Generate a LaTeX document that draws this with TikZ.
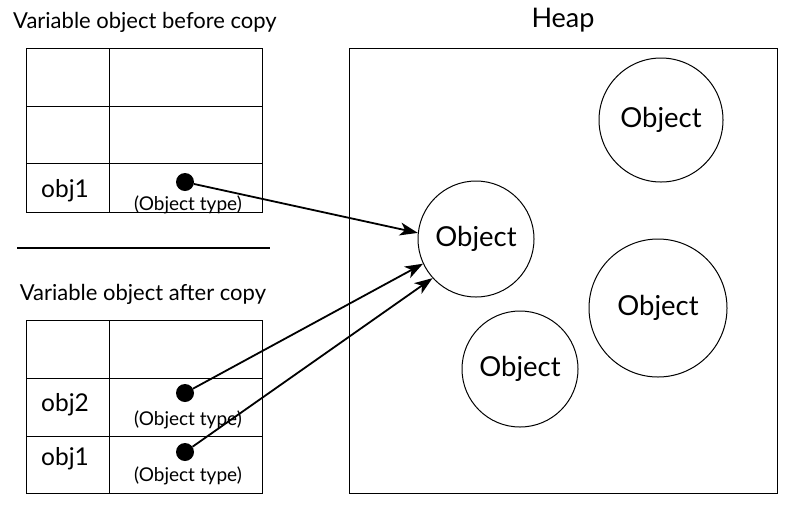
\documentclass[tikz,border=0pt]{standalone}
\usepackage{fontspec}
\setmainfont{Lato}
\usetikzlibrary{arrows.meta}

\begin{document}
\begin{tikzpicture}[
    x = 1pt,
    y = -1pt,
    >={Stealth[length=18pt,width=13pt,inset=5pt]},
    cell/.style = {
      draw,
      line width = 1pt
    },
    dot/.style = {
      fill = black,
      circle,
      inner sep = 0pt,
      minimum size = 18pt
    },
    obj/.style = {
      draw,
      circle,
      line width = 1pt,
      inner sep = 0pt,
      font = \fontsize{27.5}{32}\selectfont
    },
    title/.style = {font = \fontsize{22}{26}\selectfont},
    var/.style = {font = \fontsize{24.5}{29}\selectfont},
    kind/.style = {font = \fontsize{19}{23}\selectfont},
    ref/.style = {->, line width = 1.8pt}
  ]
  \useasboundingbox (0,0) rectangle (794,507);

  % before copy
  \node[title] (before) at (145,22) {Variable object before copy};
  \draw[cell] (26,48) rectangle (262,212);
  \draw[cell] (109,48) -- (109,212);
  \draw[cell] (26,106) -- (262,106);
  \draw[cell] (26,163) -- (262,163);
  \node[var] (name1) at (65,191) {obj1};
  \node[dot] (p1) at (185,182) {};
  \node[kind] (t1) at (188,205) {(Object type)};

  \draw[line width = 2.6pt] (17,248) -- (270,248);

  % after copy
  \node[title] (after) at (143,294) {Variable object after copy};
  \draw[cell] (26,320) rectangle (262,493);
  \draw[cell] (109,320) -- (109,493);
  \draw[cell] (26,378) -- (262,378);
  \draw[cell] (26,436) -- (262,436);
  \node[var] (name2) at (65,405) {obj2};
  \node[dot] (p2) at (185,393) {};
  \node[kind] (t2) at (188,420) {(Object type)};
  \node[var] (name3) at (65,459) {obj1};
  \node[dot] (p3) at (185,452) {};
  \node[kind] (t3) at (188,476) {(Object type)};

  % heap
  \node[title, font = \fontsize{27}{32}\selectfont] (heap) at (563,20) {Heap};
  \draw[cell] (349,48) rectangle (777,493);
  \node[obj, minimum size = 124pt] (oa) at (661,120) {Object};
  \node[obj, minimum size = 116pt] (ob) at (476,239) {Object};
  \node[obj, minimum size = 138pt] (oc) at (658,308) {Object};
  \node[obj, minimum size = 116pt] (od) at (520,369) {Object};

  \draw[ref] (p1) -- (ob.174);
  \draw[ref] (p2) -- (ob.205);
  \draw[ref] (p3) -- (ob.222);
\end{tikzpicture}
\end{document}
